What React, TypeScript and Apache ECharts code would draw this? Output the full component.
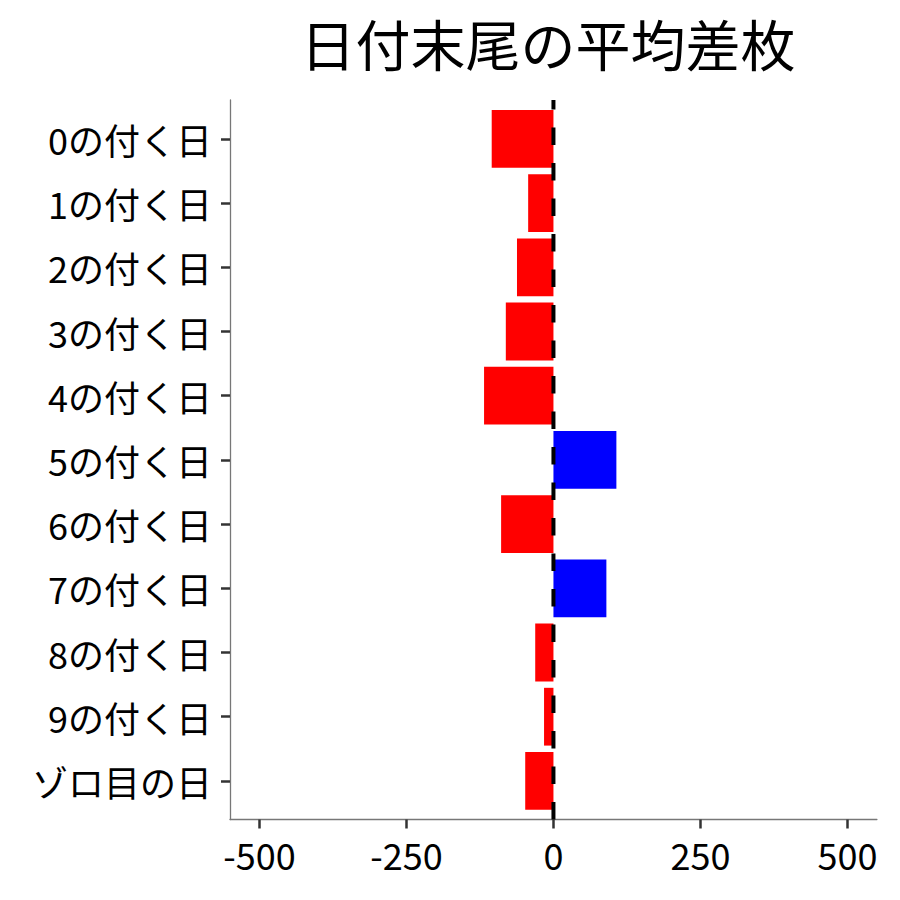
import React, { useEffect, useRef } from "react";
import * as echarts from "echarts";

const categories = [
  "0の付く日",
  "1の付く日",
  "2の付く日",
  "3の付く日",
  "4の付く日",
  "5の付く日",
  "6の付く日",
  "7の付く日",
  "8の付く日",
  "9の付く日",
  "ゾロ目の日",
];
const values = [-105, -43, -62, -81, -118, 107, -89, 90, -31, -16, -48];
const xTicks = [-500, -250, 0, 250, 500];
const referenceX = 0;
const title = "日付末尾の平均差枚";

const FONT = '"Noto Sans CJK JP", "Noto Sans", sans-serif';

export default function App() {
  const ref = useRef<HTMLDivElement>(null);
  useEffect(() => {
    if (!ref.current) return;
    const chart = echarts.init(ref.current, null, { renderer: "svg" });
    const n = categories.length;
    chart.setOption({
      animation: false,
      backgroundColor: "#ffffff",
      textStyle: { fontFamily: FONT },
      title: {
        text: title,
        left: 543,
        textAlign: "center",
        top: 9,
        textStyle: { fontFamily: FONT, fontSize: 55, fontWeight: "normal", color: "#000" },
      },
      grid: [
        { left: 230, right: 23.1, top: 106.8, bottom: 87, containLabel: false },
        { left: 230, right: 23.1, top: 100, bottom: 80.5, containLabel: false },
      ],
      xAxis: [
        {
          type: "value",
          gridIndex: 0,
          min: -550,
          max: 550,
          show: false,
          splitLine: { show: false },
        },
        {
          type: "value",
          gridIndex: 1,
          min: -550,
          max: 550,
          splitLine: { show: false },
          axisLine: { show: true, onZero: false, lineStyle: { color: "#777", width: 1.3 } },
          axisTick: {
            show: true,
            customValues: xTicks,
            length: 9,
            lineStyle: { color: "#333", width: 2.5 },
          },
          axisLabel: {
            customValues: xTicks,
            margin: 16,
            fontSize: 36,
            color: "#000",
            fontFamily: FONT,
          },
        },
      ],
      yAxis: [
        {
          type: "category",
          gridIndex: 0,
          data: categories,
          inverse: true,
          axisLine: { show: false, onZero: false },
          axisTick: {
            show: true,
            alignWithLabel: true,
            length: 9,
            lineStyle: { color: "#333", width: 2.5 },
          },
          axisLabel: { fontSize: 36, color: "#000", margin: 18, fontFamily: FONT },
          splitLine: { show: false },
        },
        {
          type: "value",
          gridIndex: 1,
          min: -0.6,
          max: n - 1 + 0.6,
          inverse: true,
          axisLine: { show: true, onZero: false, lineStyle: { color: "#777", width: 1.3 } },
          axisTick: { show: false },
          axisLabel: { show: false },
          splitLine: { show: false },
        },
      ],
      series: [
        {
          type: "bar",
          xAxisIndex: 0,
          yAxisIndex: 0,
          barWidth: "90%",
          data: values.map((v) => ({
            value: v,
            itemStyle: { color: v >= 0 ? "#0000ff" : "#ff0000" },
          })),
          z: 2,
        },
        {
          type: "line",
          xAxisIndex: 1,
          yAxisIndex: 1,
          symbol: "none",
          silent: true,
          data: [
            [referenceX, n - 1 + 0.6],
            [referenceX, -0.6],
          ],
          lineStyle: { color: "#000", width: 4, type: [17.5, 18] },
          z: 5,
        },
      ],
    });
    return () => chart.dispose();
  }, []);
  return (
    <div
      ref={ref}
      style={{ position: "absolute", left: 0, top: 0, width: 900, height: 900 }}
    />
  );
}
